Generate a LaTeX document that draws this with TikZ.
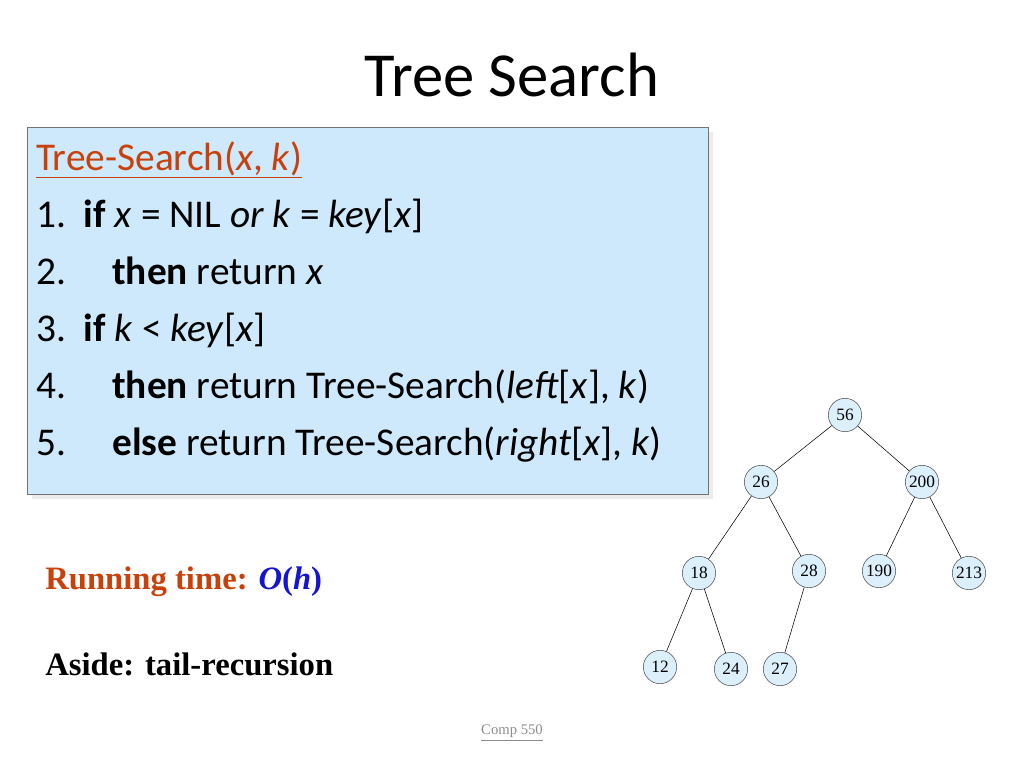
\documentclass[tikz,border=0pt]{standalone}
\usepackage{fontspec}
\setmainfont{Carlito}
\newfontfamily\timesfont{Liberation Serif}
\usetikzlibrary{shadows}
\definecolor{boxblue}{RGB}{205,233,251}
\definecolor{keyred}{RGB}{200,65,10}
\definecolor{ohblue}{RGB}{20,20,210}
\tikzstyle{key}=[circle,draw=black!70,fill=boxblue!70,minimum size=25pt,inner sep=0pt,font=\timesfont\fontsize{13}{13}\selectfont]
\tikzstyle{codeline}=[anchor=base west,inner sep=0pt,font=\fontsize{29.5}{29.5}\selectfont]
\begin{document}
\begin{tikzpicture}[x=0.75pt,y=-0.75pt]
  \useasboundingbox (0,0) rectangle (1024,768);
  \node (title) at (512,75) {\fontsize{47}{47}\selectfont Tree Search};
  % code box
  \draw[draw=black!55,fill=boxblue,drop shadow={shadow xshift=4pt,shadow yshift=-4pt,fill=black!15}] (27,127) rectangle (708,494);
  \node[codeline,text=keyred] (head) at (36,170) {\underline{Tree-Search(\textit{x}, \textit{k})}};
  \node[codeline] (l1) at (36,227) {1.\ \ \textbf{if} \textit{x} = NIL \textit{or k} = \textit{key}[\textit{x}]};
  \node[codeline] (l2) at (36,284) {2.};
  \node[codeline] (l2b) at (112,284) {\textbf{then} return \textit{x}};
  \node[codeline] (l3) at (36,341) {3.\ \ \textbf{if} \textit{k} < \textit{key}[\textit{x}]};
  \node[codeline] (l4) at (36,398) {4.};
  \node[codeline] (l4b) at (112,398) {\textbf{then} return Tree-Search(\textit{left}[\textit{x}], \textit{k})};
  \node[codeline] (l5) at (36,455) {5.};
  \node[codeline] (l5b) at (112,455) {\textbf{else} return Tree-Search(\textit{right}[\textit{x}], \textit{k})};
  % notes
  \node[anchor=west,inner sep=0pt,text=keyred] (rt) at (45,582) {\timesfont\fontsize{24.5}{24.5}\selectfont\bfseries Running time: \textcolor{ohblue}{\textit{O}(\textit{h})}};
  \node[anchor=west,inner sep=0pt] (aside) at (45,664) {\timesfont\fontsize{24.5}{24.5}\selectfont\bfseries Aside: tail-recursion};
  \node[text=black!45] (comp) at (512,733) {\timesfont\fontsize{11}{11}\selectfont\underline{Comp 550}};
  % tree
  \node[key] (n56) at (845,415) {56};
  \node[key] (n26) at (761,482) {26};
  \node[key] (n200) at (922,482) {200};
  \node[key] (n18) at (699,573) {18};
  \node[key] (n28) at (809,571) {28};
  \node[key] (n190) at (879,571) {190};
  \node[key] (n213) at (969,573) {213};
  \node[key] (n12) at (660,667) {12};
  \node[key] (n24) at (731,669) {24};
  \node[key] (n27) at (780,669) {27};
  \foreach \a/\b in {n56/n26,n56/n200,n26/n18,n26/n28,n200/n190,n200/n213,n18/n12,n18/n24,n28/n27}
    \draw (\a) -- (\b);
\end{tikzpicture}
\end{document}
